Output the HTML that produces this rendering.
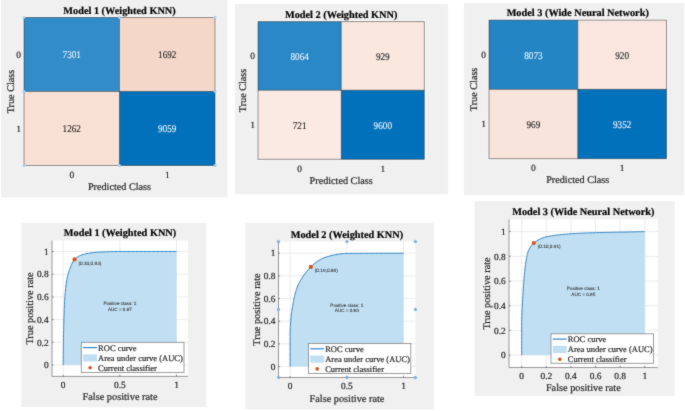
<!DOCTYPE html>
<html><head><meta charset="utf-8"><style>
html,body{margin:0;padding:0;background:#fff;}
body{width:685px;height:411px;overflow:hidden;font-family:"Liberation Serif",serif;}
svg{display:block;text-rendering:geometricPrecision;will-change:transform;}
#wrap{width:685px;height:411px;filter:none;}
</style></head><body>
<div id="wrap"><svg width="685" height="411" viewBox="0 0 685 411">
<defs><filter id="bl" x="0" y="0" width="685" height="411" filterUnits="userSpaceOnUse" color-interpolation-filters="sRGB"><feConvolveMatrix order="3" kernelMatrix="0.02 0.08 0.02 0.08 0.6 0.08 0.02 0.08 0.02" edgeMode="duplicate"/></filter></defs>
<g filter="url(#bl)">
<rect width="685" height="411" fill="#fff"/>
<rect x="1" y="0" width="226.5" height="197.3" fill="#f0f0f0" />
<rect x="24" y="17.5" width="95.5" height="74" fill="#318cc9" />
<rect x="119.5" y="17.5" width="95.5" height="74" fill="#f5d7c9" />
<rect x="24" y="91.5" width="95.5" height="74" fill="#f9e0d5" />
<rect x="119.5" y="91.5" width="95.5" height="74" fill="#0271bc" />
<rect x="23" y="16.5" width="193" height="150" fill="none" stroke="#fafafa" stroke-width="1"/>
<rect x="24" y="17.5" width="191" height="148" fill="none" stroke="rgba(30,30,30,0.5)" stroke-width="0.9"/>
<line x1="119.5" y1="17.5" x2="119.5" y2="165.5" stroke="rgba(30,30,30,0.6)" stroke-width="0.8"/>
<line x1="24" y1="91.5" x2="215" y2="91.5" stroke="rgba(30,30,30,0.6)" stroke-width="0.8"/>
<text x="71.75" y="58.3" font-size="9.6" text-anchor="middle" fill="#e8f1f9" stroke="#e8f1f9" stroke-width="0.12" font-family='"Liberation Serif", serif' transform="translate(71.75 58.3) scale(0.96 1.07) translate(-71.75 -58.3)" >7301</text>
<text x="167.25" y="58.3" font-size="9.6" text-anchor="middle" fill="#262626" stroke="#262626" stroke-width="0.12" font-family='"Liberation Serif", serif' transform="translate(167.25 58.3) scale(0.96 1.07) translate(-167.25 -58.3)" >1692</text>
<text x="71.75" y="132.3" font-size="9.6" text-anchor="middle" fill="#262626" stroke="#262626" stroke-width="0.12" font-family='"Liberation Serif", serif' transform="translate(71.75 132.3) scale(0.96 1.07) translate(-71.75 -132.3)" >1262</text>
<text x="167.25" y="132.3" font-size="9.6" text-anchor="middle" fill="#e8f1f9" stroke="#e8f1f9" stroke-width="0.12" font-family='"Liberation Serif", serif' transform="translate(167.25 132.3) scale(0.96 1.07) translate(-167.25 -132.3)" >9059</text>
<text x="119.5" y="13.6" font-size="10.3" text-anchor="middle" font-weight="bold" fill="#000" stroke="#000" stroke-width="0.2" font-family='"Liberation Serif", serif' >Model 1 (Weighted KNN)</text>
<text x="21" y="57.8" font-size="9.5" text-anchor="end" fill="#262626" stroke="#262626" stroke-width="0.2" font-family='"Liberation Serif", serif' >0</text>
<text x="21" y="131.8" font-size="9.5" text-anchor="end" fill="#262626" stroke="#262626" stroke-width="0.2" font-family='"Liberation Serif", serif' >1</text>
<text x="71.75" y="177.6" font-size="9.5" text-anchor="middle" fill="#262626" stroke="#262626" stroke-width="0.2" font-family='"Liberation Serif", serif' >0</text>
<text x="167.25" y="177.6" font-size="9.5" text-anchor="middle" fill="#262626" stroke="#262626" stroke-width="0.2" font-family='"Liberation Serif", serif' >1</text>
<text x="119.5" y="189.8" font-size="10.2" text-anchor="middle" fill="#262626" stroke="#262626" stroke-width="0.2" font-family='"Liberation Serif", serif' >Predicted Class</text>
<text x="14.2" y="91.5" font-size="10.2" text-anchor="middle" fill="#262626" stroke="#262626" stroke-width="0.2" font-family='"Liberation Serif", serif' transform="rotate(-90 14.2 91.5)" >True Class</text>
<circle cx="24" cy="17.5" r="1.2" fill="#c9e2f6" stroke="#7ab6e6" stroke-width="0.6"/>
<circle cx="24" cy="91.5" r="1.2" fill="#c9e2f6" stroke="#7ab6e6" stroke-width="0.6"/>
<circle cx="24" cy="165.5" r="1.2" fill="#c9e2f6" stroke="#7ab6e6" stroke-width="0.6"/>
<circle cx="119.5" cy="17.5" r="1.2" fill="#c9e2f6" stroke="#7ab6e6" stroke-width="0.6"/>
<circle cx="119.5" cy="165.5" r="1.2" fill="#c9e2f6" stroke="#7ab6e6" stroke-width="0.6"/>
<circle cx="215" cy="17.5" r="1.2" fill="#c9e2f6" stroke="#7ab6e6" stroke-width="0.6"/>
<circle cx="215" cy="91.5" r="1.2" fill="#c9e2f6" stroke="#7ab6e6" stroke-width="0.6"/>
<circle cx="215" cy="165.5" r="1.2" fill="#c9e2f6" stroke="#7ab6e6" stroke-width="0.6"/>
<rect x="235" y="4" width="213" height="190" fill="#f0f0f0" />
<rect x="258" y="21.6" width="83.3" height="68.7" fill="#2a88c7" />
<rect x="341.3" y="21.6" width="83" height="68.7" fill="#fae7de" />
<rect x="258" y="90.3" width="83.3" height="69" fill="#fbeae3" />
<rect x="341.3" y="90.3" width="83" height="69" fill="#0271bc" />
<rect x="257" y="20.6" width="168.3" height="139.7" fill="none" stroke="#fafafa" stroke-width="1"/>
<rect x="258" y="21.6" width="166.3" height="137.7" fill="none" stroke="rgba(30,30,30,0.5)" stroke-width="0.9"/>
<line x1="341.3" y1="21.6" x2="341.3" y2="159.3" stroke="rgba(30,30,30,0.6)" stroke-width="0.8"/>
<line x1="258" y1="90.3" x2="424.3" y2="90.3" stroke="rgba(30,30,30,0.6)" stroke-width="0.8"/>
<text x="299.65" y="59.75" font-size="9.6" text-anchor="middle" fill="#e8f1f9" stroke="#e8f1f9" stroke-width="0.12" font-family='"Liberation Serif", serif' transform="translate(299.65 59.75) scale(0.96 1.07) translate(-299.65 -59.75)" >8064</text>
<text x="382.8" y="59.75" font-size="9.6" text-anchor="middle" fill="#262626" stroke="#262626" stroke-width="0.12" font-family='"Liberation Serif", serif' transform="translate(382.8 59.75) scale(0.96 1.07) translate(-382.8 -59.75)" >929</text>
<text x="299.65" y="128.6" font-size="9.6" text-anchor="middle" fill="#262626" stroke="#262626" stroke-width="0.12" font-family='"Liberation Serif", serif' transform="translate(299.65 128.6) scale(0.96 1.07) translate(-299.65 -128.6)" >721</text>
<text x="382.8" y="128.6" font-size="9.6" text-anchor="middle" fill="#e8f1f9" stroke="#e8f1f9" stroke-width="0.12" font-family='"Liberation Serif", serif' transform="translate(382.8 128.6) scale(0.96 1.07) translate(-382.8 -128.6)" >9600</text>
<text x="341.15" y="17.5" font-size="10.3" text-anchor="middle" font-weight="bold" fill="#000" stroke="#000" stroke-width="0.2" font-family='"Liberation Serif", serif' >Model 2 (Weighted KNN)</text>
<text x="255" y="59.25" font-size="9.5" text-anchor="end" fill="#262626" stroke="#262626" stroke-width="0.2" font-family='"Liberation Serif", serif' >0</text>
<text x="255" y="128.1" font-size="9.5" text-anchor="end" fill="#262626" stroke="#262626" stroke-width="0.2" font-family='"Liberation Serif", serif' >1</text>
<text x="299.65" y="171.9" font-size="9.5" text-anchor="middle" fill="#262626" stroke="#262626" stroke-width="0.2" font-family='"Liberation Serif", serif' >0</text>
<text x="382.8" y="171.9" font-size="9.5" text-anchor="middle" fill="#262626" stroke="#262626" stroke-width="0.2" font-family='"Liberation Serif", serif' >1</text>
<text x="341.15" y="184" font-size="10.2" text-anchor="middle" fill="#262626" stroke="#262626" stroke-width="0.2" font-family='"Liberation Serif", serif' >Predicted Class</text>
<text x="246.3" y="90.45" font-size="10.2" text-anchor="middle" fill="#262626" stroke="#262626" stroke-width="0.2" font-family='"Liberation Serif", serif' transform="rotate(-90 246.3 90.45)" >True Class</text>
<rect x="464" y="3" width="220" height="192" fill="#f0f0f0" />
<rect x="489" y="20.1" width="88.8" height="69.3" fill="#2485c5" />
<rect x="577.8" y="20.1" width="88.7" height="69.3" fill="#fae6df" />
<rect x="489" y="89.4" width="88.8" height="69.3" fill="#f9e4dc" />
<rect x="577.8" y="89.4" width="88.7" height="69.3" fill="#0271bc" />
<rect x="488" y="19.1" width="179.5" height="140.6" fill="none" stroke="#fafafa" stroke-width="1"/>
<rect x="489" y="20.1" width="177.5" height="138.6" fill="none" stroke="rgba(30,30,30,0.5)" stroke-width="0.9"/>
<line x1="577.8" y1="20.1" x2="577.8" y2="158.7" stroke="rgba(30,30,30,0.6)" stroke-width="0.8"/>
<line x1="489" y1="89.4" x2="666.5" y2="89.4" stroke="rgba(30,30,30,0.6)" stroke-width="0.8"/>
<text x="533.4" y="58.55" font-size="9.6" text-anchor="middle" fill="#e8f1f9" stroke="#e8f1f9" stroke-width="0.12" font-family='"Liberation Serif", serif' transform="translate(533.4 58.55) scale(0.96 1.07) translate(-533.4 -58.55)" >8073</text>
<text x="622.15" y="58.55" font-size="9.6" text-anchor="middle" fill="#262626" stroke="#262626" stroke-width="0.12" font-family='"Liberation Serif", serif' transform="translate(622.15 58.55) scale(0.96 1.07) translate(-622.15 -58.55)" >920</text>
<text x="533.4" y="127.85" font-size="9.6" text-anchor="middle" fill="#262626" stroke="#262626" stroke-width="0.12" font-family='"Liberation Serif", serif' transform="translate(533.4 127.85) scale(0.96 1.07) translate(-533.4 -127.85)" >969</text>
<text x="622.15" y="127.85" font-size="9.6" text-anchor="middle" fill="#e8f1f9" stroke="#e8f1f9" stroke-width="0.12" font-family='"Liberation Serif", serif' transform="translate(622.15 127.85) scale(0.96 1.07) translate(-622.15 -127.85)" >9352</text>
<text x="577.75" y="15.6" font-size="10.3" text-anchor="middle" font-weight="bold" fill="#000" stroke="#000" stroke-width="0.2" font-family='"Liberation Serif", serif' >Model 3 (Wide Neural Network)</text>
<text x="486" y="58.05" font-size="9.5" text-anchor="end" fill="#262626" stroke="#262626" stroke-width="0.2" font-family='"Liberation Serif", serif' >0</text>
<text x="486" y="127.35" font-size="9.5" text-anchor="end" fill="#262626" stroke="#262626" stroke-width="0.2" font-family='"Liberation Serif", serif' >1</text>
<text x="533.4" y="171" font-size="9.5" text-anchor="middle" fill="#262626" stroke="#262626" stroke-width="0.2" font-family='"Liberation Serif", serif' >0</text>
<text x="622.15" y="171" font-size="9.5" text-anchor="middle" fill="#262626" stroke="#262626" stroke-width="0.2" font-family='"Liberation Serif", serif' >1</text>
<text x="577.75" y="183.1" font-size="10.2" text-anchor="middle" fill="#262626" stroke="#262626" stroke-width="0.2" font-family='"Liberation Serif", serif' >Predicted Class</text>
<text x="477.2" y="89.4" font-size="10.2" text-anchor="middle" fill="#262626" stroke="#262626" stroke-width="0.2" font-family='"Liberation Serif", serif' transform="rotate(-90 477.2 89.4)" >True Class</text>
<rect x="21.3" y="223" width="185.1" height="184.1" fill="#f0f0f0" />
<rect x="52" y="240.5" width="136" height="135.9" fill="#ffffff" />
<line x1="63.2" y1="240.5" x2="63.2" y2="376.4" stroke="#e3e3e3" stroke-width="0.7"/>
<line x1="119.85" y1="240.5" x2="119.85" y2="376.4" stroke="#e3e3e3" stroke-width="0.7"/>
<line x1="176.5" y1="240.5" x2="176.5" y2="376.4" stroke="#e3e3e3" stroke-width="0.7"/>
<line x1="52" y1="365" x2="188" y2="365" stroke="#e3e3e3" stroke-width="0.7"/>
<line x1="52" y1="342.3" x2="188" y2="342.3" stroke="#e3e3e3" stroke-width="0.7"/>
<line x1="52" y1="319.6" x2="188" y2="319.6" stroke="#e3e3e3" stroke-width="0.7"/>
<line x1="52" y1="296.9" x2="188" y2="296.9" stroke="#e3e3e3" stroke-width="0.7"/>
<line x1="52" y1="274.2" x2="188" y2="274.2" stroke="#e3e3e3" stroke-width="0.7"/>
<line x1="52" y1="251.5" x2="188" y2="251.5" stroke="#e3e3e3" stroke-width="0.7"/>
<polygon points="63.2,365 63.21,363.68 63.23,362.36 63.24,361.05 63.25,359.73 63.27,358.41 63.28,357.09 63.29,355.78 63.3,354.46 63.32,353.14 63.33,351.82 63.34,350.5 63.35,349.19 63.37,347.87 63.38,346.55 63.4,345.23 63.41,343.91 63.42,342.6 63.44,341.28 63.46,339.96 63.48,338.64 63.49,337.33 63.51,336.01 63.53,334.69 63.56,333.37 63.58,332.06 63.61,330.74 63.63,329.42 63.66,328.1 63.69,326.78 63.72,325.47 63.76,324.15 63.79,322.83 63.83,321.51 63.87,320.19 63.91,318.88 63.95,317.56 63.99,316.24 64.04,314.92 64.08,313.61 64.13,312.29 64.19,310.97 64.24,309.66 64.29,308.34 64.35,307.02 64.41,305.71 64.47,304.39 64.53,303.08 64.6,301.76 64.67,300.45 64.75,299.13 64.84,297.81 64.93,296.49 65.03,295.17 65.14,293.85 65.25,292.53 65.37,291.22 65.5,289.9 65.64,288.59 65.78,287.28 65.94,285.97 66.1,284.67 66.27,283.37 66.45,282.07 66.63,280.78 66.85,279.49 67.11,278.2 67.41,276.91 67.73,275.62 68.09,274.34 68.47,273.07 68.87,271.8 69.29,270.55 69.72,269.31 70.16,268.08 70.62,266.81 71.12,265.52 71.66,264.24 72.24,262.98 72.86,261.8 73.54,260.71 74.27,259.74 75.08,258.9 76.03,258.08 77.1,257.3 78.27,256.57 79.5,255.9 80.77,255.31 82.04,254.81 83.29,254.42 84.51,254.12 85.76,253.84 87.03,253.58 88.32,253.33 89.62,253.11 90.93,252.9 92.26,252.72 93.59,252.55 94.92,252.41 96.25,252.28 97.58,252.18 98.89,252.1 100.2,252.03 101.51,251.97 102.83,251.91 104.14,251.86 105.45,251.81 106.77,251.76 108.08,251.71 109.4,251.67 110.72,251.63 112.03,251.6 113.35,251.57 114.67,251.54 115.98,251.53 117.3,251.51 118.62,251.5 119.93,251.5 121.25,251.5 122.56,251.5 123.88,251.5 125.19,251.5 126.51,251.5 127.82,251.5 129.14,251.5 130.46,251.5 131.77,251.5 133.09,251.5 134.4,251.5 135.72,251.5 137.03,251.5 138.35,251.5 139.66,251.5 140.98,251.5 142.29,251.5 143.61,251.5 144.93,251.5 146.24,251.5 147.56,251.5 148.87,251.5 150.19,251.5 151.5,251.5 152.82,251.5 154.13,251.5 155.45,251.5 156.77,251.5 158.08,251.5 159.4,251.5 160.71,251.5 162.03,251.5 163.34,251.5 164.66,251.5 165.98,251.5 167.29,251.5 168.61,251.5 169.92,251.5 171.24,251.5 172.55,251.5 173.87,251.5 175.18,251.5 176.5,251.5 176.5,365 63.2,365" fill="#c0dff3" stroke="none"/>
<polyline points="63.2,365 63.21,363.68 63.23,362.36 63.24,361.05 63.25,359.73 63.27,358.41 63.28,357.09 63.29,355.78 63.3,354.46 63.32,353.14 63.33,351.82 63.34,350.5 63.35,349.19 63.37,347.87 63.38,346.55 63.4,345.23 63.41,343.91 63.42,342.6 63.44,341.28 63.46,339.96 63.48,338.64 63.49,337.33 63.51,336.01 63.53,334.69 63.56,333.37 63.58,332.06 63.61,330.74 63.63,329.42 63.66,328.1 63.69,326.78 63.72,325.47 63.76,324.15 63.79,322.83 63.83,321.51 63.87,320.19 63.91,318.88 63.95,317.56 63.99,316.24 64.04,314.92 64.08,313.61 64.13,312.29 64.19,310.97 64.24,309.66 64.29,308.34 64.35,307.02 64.41,305.71 64.47,304.39 64.53,303.08 64.6,301.76 64.67,300.45 64.75,299.13 64.84,297.81 64.93,296.49 65.03,295.17 65.14,293.85 65.25,292.53 65.37,291.22 65.5,289.9 65.64,288.59 65.78,287.28 65.94,285.97 66.1,284.67 66.27,283.37 66.45,282.07 66.63,280.78 66.85,279.49 67.11,278.2 67.41,276.91 67.73,275.62 68.09,274.34 68.47,273.07 68.87,271.8 69.29,270.55 69.72,269.31 70.16,268.08 70.62,266.81 71.12,265.52 71.66,264.24 72.24,262.98 72.86,261.8 73.54,260.71 74.27,259.74 75.08,258.9 76.03,258.08 77.1,257.3 78.27,256.57 79.5,255.9 80.77,255.31 82.04,254.81 83.29,254.42 84.51,254.12 85.76,253.84 87.03,253.58 88.32,253.33 89.62,253.11 90.93,252.9 92.26,252.72 93.59,252.55 94.92,252.41 96.25,252.28 97.58,252.18 98.89,252.1 100.2,252.03 101.51,251.97 102.83,251.91 104.14,251.86 105.45,251.81 106.77,251.76 108.08,251.71 109.4,251.67 110.72,251.63 112.03,251.6 113.35,251.57 114.67,251.54 115.98,251.53 117.3,251.51 118.62,251.5 119.93,251.5 121.25,251.5 122.56,251.5 123.88,251.5 125.19,251.5 126.51,251.5 127.82,251.5 129.14,251.5 130.46,251.5 131.77,251.5 133.09,251.5 134.4,251.5 135.72,251.5 137.03,251.5 138.35,251.5 139.66,251.5 140.98,251.5 142.29,251.5 143.61,251.5 144.93,251.5 146.24,251.5 147.56,251.5 148.87,251.5 150.19,251.5 151.5,251.5 152.82,251.5 154.13,251.5 155.45,251.5 156.77,251.5 158.08,251.5 159.4,251.5 160.71,251.5 162.03,251.5 163.34,251.5 164.66,251.5 165.98,251.5 167.29,251.5 168.61,251.5 169.92,251.5 171.24,251.5 172.55,251.5 173.87,251.5 175.18,251.5 176.5,251.5" fill="none" stroke="#2f84c6" stroke-width="1.0"/>
<line x1="52" y1="240.5" x2="52" y2="376.4" stroke="#8c8c8c" stroke-width="0.9"/>
<line x1="52" y1="376.4" x2="188" y2="376.4" stroke="#8c8c8c" stroke-width="0.9"/>
<line x1="52" y1="365" x2="53.5" y2="365" stroke="#555" stroke-width="0.7"/>
<line x1="52" y1="342.3" x2="53.5" y2="342.3" stroke="#555" stroke-width="0.7"/>
<line x1="52" y1="319.6" x2="53.5" y2="319.6" stroke="#555" stroke-width="0.7"/>
<line x1="52" y1="296.9" x2="53.5" y2="296.9" stroke="#555" stroke-width="0.7"/>
<line x1="52" y1="274.2" x2="53.5" y2="274.2" stroke="#555" stroke-width="0.7"/>
<line x1="52" y1="251.5" x2="53.5" y2="251.5" stroke="#555" stroke-width="0.7"/>
<line x1="63.2" y1="376.4" x2="63.2" y2="374.9" stroke="#555" stroke-width="0.7"/>
<line x1="119.85" y1="376.4" x2="119.85" y2="374.9" stroke="#555" stroke-width="0.7"/>
<line x1="176.5" y1="376.4" x2="176.5" y2="374.9" stroke="#555" stroke-width="0.7"/>
<circle cx="74.53" cy="259.44" r="2.1" fill="#d95319"/>
<text x="78.43" y="264.84" font-size="4.75" text-anchor="start" fill="#333" stroke="#333" stroke-width="0.08" font-family='"Liberation Sans", sans-serif' >(0.10,0.93)</text>
<text x="119.85" y="304.98" font-size="4.6" text-anchor="middle" fill="#333" stroke="#333" stroke-width="0.08" font-family='"Liberation Sans", sans-serif' >Positive class: 1</text>
<text x="119.85" y="310.78" font-size="4.6" text-anchor="middle" fill="#333" stroke="#333" stroke-width="0.08" font-family='"Liberation Sans", sans-serif' >AUC = 0.97</text>
<rect x="81.3" y="342.3" width="102.7" height="30.2" fill="#ffffff" stroke="#858585" stroke-width="0.8"/>
<line x1="83.1" y1="347.6" x2="97" y2="347.6" stroke="#1f78bf" stroke-width="1.1"/>
<rect x="83.1" y="354.3" width="13.9" height="7.2" fill="#c0dff3" />
<circle cx="90.1" cy="367.7" r="1.8" fill="#d95319"/>
<text x="98.1" y="350.6" font-size="8.5" text-anchor="start" fill="#262626" stroke="#262626" stroke-width="0.2" font-family='"Liberation Serif", serif' >ROC curve</text>
<text x="98.1" y="360.9" font-size="8.5" text-anchor="start" fill="#262626" stroke="#262626" stroke-width="0.2" font-family='"Liberation Serif", serif' >Area under curve (AUC)</text>
<text x="98.1" y="370.7" font-size="8.5" text-anchor="start" fill="#262626" stroke="#262626" stroke-width="0.2" font-family='"Liberation Serif", serif' >Current classifier</text>
<text x="63.2" y="388.2" font-size="9.4" text-anchor="middle" fill="#262626" stroke="#262626" stroke-width="0.2" font-family='"Liberation Serif", serif' >0</text>
<text x="119.85" y="388.2" font-size="9.4" text-anchor="middle" fill="#262626" stroke="#262626" stroke-width="0.2" font-family='"Liberation Serif", serif' >0.5</text>
<text x="176.5" y="388.2" font-size="9.4" text-anchor="middle" fill="#262626" stroke="#262626" stroke-width="0.2" font-family='"Liberation Serif", serif' >1</text>
<text x="48.6" y="368.2" font-size="9.4" text-anchor="end" fill="#262626" stroke="#262626" stroke-width="0.2" font-family='"Liberation Serif", serif' >0</text>
<text x="48.6" y="345.5" font-size="9.4" text-anchor="end" fill="#262626" stroke="#262626" stroke-width="0.2" font-family='"Liberation Serif", serif' >0.2</text>
<text x="48.6" y="322.8" font-size="9.4" text-anchor="end" fill="#262626" stroke="#262626" stroke-width="0.2" font-family='"Liberation Serif", serif' >0.4</text>
<text x="48.6" y="300.1" font-size="9.4" text-anchor="end" fill="#262626" stroke="#262626" stroke-width="0.2" font-family='"Liberation Serif", serif' >0.6</text>
<text x="48.6" y="277.4" font-size="9.4" text-anchor="end" fill="#262626" stroke="#262626" stroke-width="0.2" font-family='"Liberation Serif", serif' >0.8</text>
<text x="48.6" y="254.7" font-size="9.4" text-anchor="end" fill="#262626" stroke="#262626" stroke-width="0.2" font-family='"Liberation Serif", serif' >1</text>
<text x="120" y="400.4" font-size="10.3" text-anchor="middle" fill="#262626" stroke="#262626" stroke-width="0.2" font-family='"Liberation Serif", serif' >False positive rate</text>
<text x="32.6" y="308.45" font-size="10.3" text-anchor="middle" fill="#262626" stroke="#262626" stroke-width="0.2" font-family='"Liberation Serif", serif' transform="rotate(-90 32.6 308.45)" >True positive rate</text>
<text x="120" y="236.4" font-size="10.3" text-anchor="middle" font-weight="bold" fill="#000" stroke="#000" stroke-width="0.2" font-family='"Liberation Serif", serif' >Model 1 (Weighted KNN)</text>
<rect x="245.4" y="223" width="188.4" height="186.5" fill="#f0f0f0" />
<rect x="278.5" y="241.6" width="136.9" height="135.9" fill="#ffffff" />
<line x1="290.1" y1="241.6" x2="290.1" y2="377.5" stroke="#e3e3e3" stroke-width="0.7"/>
<line x1="346.8" y1="241.6" x2="346.8" y2="377.5" stroke="#e3e3e3" stroke-width="0.7"/>
<line x1="403.5" y1="241.6" x2="403.5" y2="377.5" stroke="#e3e3e3" stroke-width="0.7"/>
<line x1="278.5" y1="366.5" x2="415.4" y2="366.5" stroke="#e3e3e3" stroke-width="0.7"/>
<line x1="278.5" y1="343.84" x2="415.4" y2="343.84" stroke="#e3e3e3" stroke-width="0.7"/>
<line x1="278.5" y1="321.18" x2="415.4" y2="321.18" stroke="#e3e3e3" stroke-width="0.7"/>
<line x1="278.5" y1="298.52" x2="415.4" y2="298.52" stroke="#e3e3e3" stroke-width="0.7"/>
<line x1="278.5" y1="275.86" x2="415.4" y2="275.86" stroke="#e3e3e3" stroke-width="0.7"/>
<line x1="278.5" y1="253.2" x2="415.4" y2="253.2" stroke="#e3e3e3" stroke-width="0.7"/>
<polygon points="290.1,366.5 290.1,365.25 290.1,364 290.1,362.74 290.1,361.49 290.1,360.24 290.1,358.99 290.1,357.74 290.1,356.49 290.1,355.23 290.1,353.98 290.1,352.73 290.1,351.48 290.1,350.23 290.1,348.97 290.1,347.72 290.1,346.47 290.1,345.22 290.1,343.97 290.1,342.72 290.1,341.46 290.1,340.21 290.1,338.96 290.1,337.71 290.1,336.46 290.1,335.21 290.1,333.96 290.12,332.71 290.15,331.45 290.19,330.2 290.24,328.95 290.3,327.7 290.37,326.45 290.45,325.2 290.53,323.95 290.62,322.7 290.71,321.45 290.8,320.2 290.89,318.96 290.99,317.71 291.11,316.47 291.25,315.22 291.39,313.98 291.56,312.74 291.73,311.49 291.92,310.25 292.12,309.01 292.32,307.78 292.53,306.54 292.75,305.31 292.97,304.08 293.2,302.85 293.43,301.62 293.67,300.38 293.93,299.14 294.2,297.9 294.48,296.66 294.77,295.42 295.08,294.19 295.4,292.97 295.74,291.77 296.1,290.57 296.47,289.39 296.86,288.24 297.28,287.1 297.72,285.98 298.21,284.85 298.73,283.72 299.28,282.59 299.88,281.47 300.5,280.36 301.15,279.25 301.83,278.15 302.53,277.07 303.26,276 304,274.94 304.77,273.9 305.55,272.88 306.35,271.88 307.16,270.91 307.98,269.96 308.81,269.03 309.65,268.14 310.49,267.27 311.34,266.43 312.23,265.58 313.16,264.73 314.12,263.89 315.11,263.05 316.14,262.24 317.18,261.46 318.25,260.72 319.34,260.02 320.44,259.37 321.54,258.79 322.66,258.28 323.77,257.85 324.89,257.48 326.04,257.13 327.2,256.78 328.38,256.43 329.58,256.1 330.8,255.78 332.03,255.47 333.27,255.18 334.51,254.91 335.77,254.65 337.03,254.41 338.3,254.2 339.57,254 340.84,253.84 342.11,253.69 343.37,253.58 344.63,253.5 345.88,253.44 347.12,253.42 348.36,253.41 349.61,253.4 350.85,253.39 352.09,253.38 353.34,253.37 354.58,253.37 355.83,253.36 357.08,253.35 358.33,253.34 359.58,253.34 360.83,253.33 362.08,253.32 363.33,253.32 364.58,253.31 365.83,253.31 367.09,253.3 368.34,253.3 369.59,253.29 370.85,253.29 372.1,253.29 373.36,253.28 374.61,253.28 375.87,253.28 377.13,253.27 378.38,253.27 379.64,253.27 380.9,253.26 382.15,253.26 383.41,253.26 384.67,253.25 385.92,253.25 387.18,253.25 388.44,253.25 389.69,253.24 390.95,253.24 392.21,253.24 393.46,253.23 394.72,253.23 395.97,253.23 397.23,253.22 398.48,253.22 399.74,253.21 400.99,253.21 402.25,253.2 403.5,253.2 403.5,366.5 290.1,366.5" fill="#c0dff3" stroke="none"/>
<polyline points="290.1,366.5 290.1,365.25 290.1,364 290.1,362.74 290.1,361.49 290.1,360.24 290.1,358.99 290.1,357.74 290.1,356.49 290.1,355.23 290.1,353.98 290.1,352.73 290.1,351.48 290.1,350.23 290.1,348.97 290.1,347.72 290.1,346.47 290.1,345.22 290.1,343.97 290.1,342.72 290.1,341.46 290.1,340.21 290.1,338.96 290.1,337.71 290.1,336.46 290.1,335.21 290.1,333.96 290.12,332.71 290.15,331.45 290.19,330.2 290.24,328.95 290.3,327.7 290.37,326.45 290.45,325.2 290.53,323.95 290.62,322.7 290.71,321.45 290.8,320.2 290.89,318.96 290.99,317.71 291.11,316.47 291.25,315.22 291.39,313.98 291.56,312.74 291.73,311.49 291.92,310.25 292.12,309.01 292.32,307.78 292.53,306.54 292.75,305.31 292.97,304.08 293.2,302.85 293.43,301.62 293.67,300.38 293.93,299.14 294.2,297.9 294.48,296.66 294.77,295.42 295.08,294.19 295.4,292.97 295.74,291.77 296.1,290.57 296.47,289.39 296.86,288.24 297.28,287.1 297.72,285.98 298.21,284.85 298.73,283.72 299.28,282.59 299.88,281.47 300.5,280.36 301.15,279.25 301.83,278.15 302.53,277.07 303.26,276 304,274.94 304.77,273.9 305.55,272.88 306.35,271.88 307.16,270.91 307.98,269.96 308.81,269.03 309.65,268.14 310.49,267.27 311.34,266.43 312.23,265.58 313.16,264.73 314.12,263.89 315.11,263.05 316.14,262.24 317.18,261.46 318.25,260.72 319.34,260.02 320.44,259.37 321.54,258.79 322.66,258.28 323.77,257.85 324.89,257.48 326.04,257.13 327.2,256.78 328.38,256.43 329.58,256.1 330.8,255.78 332.03,255.47 333.27,255.18 334.51,254.91 335.77,254.65 337.03,254.41 338.3,254.2 339.57,254 340.84,253.84 342.11,253.69 343.37,253.58 344.63,253.5 345.88,253.44 347.12,253.42 348.36,253.41 349.61,253.4 350.85,253.39 352.09,253.38 353.34,253.37 354.58,253.37 355.83,253.36 357.08,253.35 358.33,253.34 359.58,253.34 360.83,253.33 362.08,253.32 363.33,253.32 364.58,253.31 365.83,253.31 367.09,253.3 368.34,253.3 369.59,253.29 370.85,253.29 372.1,253.29 373.36,253.28 374.61,253.28 375.87,253.28 377.13,253.27 378.38,253.27 379.64,253.27 380.9,253.26 382.15,253.26 383.41,253.26 384.67,253.25 385.92,253.25 387.18,253.25 388.44,253.25 389.69,253.24 390.95,253.24 392.21,253.24 393.46,253.23 394.72,253.23 395.97,253.23 397.23,253.22 398.48,253.22 399.74,253.21 400.99,253.21 402.25,253.2 403.5,253.2" fill="none" stroke="#2f84c6" stroke-width="1.0"/>
<line x1="278.5" y1="241.6" x2="278.5" y2="377.5" stroke="#8c8c8c" stroke-width="0.9"/>
<line x1="278.5" y1="377.5" x2="415.4" y2="377.5" stroke="#8c8c8c" stroke-width="0.9"/>
<line x1="278.5" y1="366.5" x2="280" y2="366.5" stroke="#555" stroke-width="0.7"/>
<line x1="278.5" y1="343.84" x2="280" y2="343.84" stroke="#555" stroke-width="0.7"/>
<line x1="278.5" y1="321.18" x2="280" y2="321.18" stroke="#555" stroke-width="0.7"/>
<line x1="278.5" y1="298.52" x2="280" y2="298.52" stroke="#555" stroke-width="0.7"/>
<line x1="278.5" y1="275.86" x2="280" y2="275.86" stroke="#555" stroke-width="0.7"/>
<line x1="278.5" y1="253.2" x2="280" y2="253.2" stroke="#555" stroke-width="0.7"/>
<line x1="290.1" y1="377.5" x2="290.1" y2="376" stroke="#555" stroke-width="0.7"/>
<line x1="346.8" y1="377.5" x2="346.8" y2="376" stroke="#555" stroke-width="0.7"/>
<line x1="403.5" y1="377.5" x2="403.5" y2="376" stroke="#555" stroke-width="0.7"/>
<circle cx="310.85" cy="266.91" r="2.1" fill="#d95319"/>
<text x="314.75" y="272.31" font-size="4.75" text-anchor="start" fill="#333" stroke="#333" stroke-width="0.08" font-family='"Liberation Sans", sans-serif' >(0.19,0.88)</text>
<text x="346.8" y="306.58" font-size="4.6" text-anchor="middle" fill="#333" stroke="#333" stroke-width="0.08" font-family='"Liberation Sans", sans-serif' >Positive class: 1</text>
<text x="346.8" y="312.38" font-size="4.6" text-anchor="middle" fill="#333" stroke="#333" stroke-width="0.08" font-family='"Liberation Sans", sans-serif' >AUC = 0.93</text>
<rect x="308.4" y="343.5" width="102.4" height="30.1" fill="#ffffff" stroke="#858585" stroke-width="0.8"/>
<line x1="310.2" y1="348.8" x2="324.1" y2="348.8" stroke="#1f78bf" stroke-width="1.1"/>
<rect x="310.2" y="355.5" width="13.9" height="7.2" fill="#c0dff3" />
<circle cx="317.2" cy="368.9" r="1.8" fill="#d95319"/>
<text x="325.2" y="351.8" font-size="8.5" text-anchor="start" fill="#262626" stroke="#262626" stroke-width="0.2" font-family='"Liberation Serif", serif' >ROC curve</text>
<text x="325.2" y="362.1" font-size="8.5" text-anchor="start" fill="#262626" stroke="#262626" stroke-width="0.2" font-family='"Liberation Serif", serif' >Area under curve (AUC)</text>
<text x="325.2" y="371.9" font-size="8.5" text-anchor="start" fill="#262626" stroke="#262626" stroke-width="0.2" font-family='"Liberation Serif", serif' >Current classifier</text>
<text x="290.1" y="389.1" font-size="9.4" text-anchor="middle" fill="#262626" stroke="#262626" stroke-width="0.2" font-family='"Liberation Serif", serif' >0</text>
<text x="346.8" y="389.1" font-size="9.4" text-anchor="middle" fill="#262626" stroke="#262626" stroke-width="0.2" font-family='"Liberation Serif", serif' >0.5</text>
<text x="403.5" y="389.1" font-size="9.4" text-anchor="middle" fill="#262626" stroke="#262626" stroke-width="0.2" font-family='"Liberation Serif", serif' >1</text>
<text x="275.5" y="369.7" font-size="9.4" text-anchor="end" fill="#262626" stroke="#262626" stroke-width="0.2" font-family='"Liberation Serif", serif' >0</text>
<text x="275.5" y="347.04" font-size="9.4" text-anchor="end" fill="#262626" stroke="#262626" stroke-width="0.2" font-family='"Liberation Serif", serif' >0.2</text>
<text x="275.5" y="324.38" font-size="9.4" text-anchor="end" fill="#262626" stroke="#262626" stroke-width="0.2" font-family='"Liberation Serif", serif' >0.4</text>
<text x="275.5" y="301.72" font-size="9.4" text-anchor="end" fill="#262626" stroke="#262626" stroke-width="0.2" font-family='"Liberation Serif", serif' >0.6</text>
<text x="275.5" y="279.06" font-size="9.4" text-anchor="end" fill="#262626" stroke="#262626" stroke-width="0.2" font-family='"Liberation Serif", serif' >0.8</text>
<text x="275.5" y="256.4" font-size="9.4" text-anchor="end" fill="#262626" stroke="#262626" stroke-width="0.2" font-family='"Liberation Serif", serif' >1</text>
<text x="346.95" y="401.8" font-size="10.3" text-anchor="middle" fill="#262626" stroke="#262626" stroke-width="0.2" font-family='"Liberation Serif", serif' >False positive rate</text>
<text x="259.9" y="309.55" font-size="10.3" text-anchor="middle" fill="#262626" stroke="#262626" stroke-width="0.2" font-family='"Liberation Serif", serif' transform="rotate(-90 259.9 309.55)" >True positive rate</text>
<text x="346.95" y="237.6" font-size="10.3" text-anchor="middle" font-weight="bold" fill="#000" stroke="#000" stroke-width="0.2" font-family='"Liberation Serif", serif' >Model 2 (Weighted KNN)</text>
<circle cx="278.5" cy="241.6" r="1.2" fill="#8fc0e8" stroke="#4b93d3" stroke-width="0.6"/>
<circle cx="278.5" cy="309.55" r="1.2" fill="#8fc0e8" stroke="#4b93d3" stroke-width="0.6"/>
<circle cx="278.5" cy="377.5" r="1.2" fill="#8fc0e8" stroke="#4b93d3" stroke-width="0.6"/>
<circle cx="346.95" cy="241.6" r="1.2" fill="#8fc0e8" stroke="#4b93d3" stroke-width="0.6"/>
<circle cx="346.95" cy="377.5" r="1.2" fill="#8fc0e8" stroke="#4b93d3" stroke-width="0.6"/>
<circle cx="415.4" cy="241.6" r="1.2" fill="#8fc0e8" stroke="#4b93d3" stroke-width="0.6"/>
<circle cx="415.4" cy="309.55" r="1.2" fill="#8fc0e8" stroke="#4b93d3" stroke-width="0.6"/>
<circle cx="415.4" cy="377.5" r="1.2" fill="#8fc0e8" stroke="#4b93d3" stroke-width="0.6"/>
<rect x="474.5" y="201.1" width="200.1" height="194.8" fill="#f0f0f0" />
<rect x="509" y="219.4" width="148.7" height="148.1" fill="#ffffff" />
<line x1="521.7" y1="219.4" x2="521.7" y2="367.5" stroke="#e3e3e3" stroke-width="0.7"/>
<line x1="546.32" y1="219.4" x2="546.32" y2="367.5" stroke="#e3e3e3" stroke-width="0.7"/>
<line x1="570.94" y1="219.4" x2="570.94" y2="367.5" stroke="#e3e3e3" stroke-width="0.7"/>
<line x1="595.56" y1="219.4" x2="595.56" y2="367.5" stroke="#e3e3e3" stroke-width="0.7"/>
<line x1="620.18" y1="219.4" x2="620.18" y2="367.5" stroke="#e3e3e3" stroke-width="0.7"/>
<line x1="644.8" y1="219.4" x2="644.8" y2="367.5" stroke="#e3e3e3" stroke-width="0.7"/>
<line x1="509" y1="355.1" x2="657.7" y2="355.1" stroke="#e3e3e3" stroke-width="0.7"/>
<line x1="509" y1="330.4" x2="657.7" y2="330.4" stroke="#e3e3e3" stroke-width="0.7"/>
<line x1="509" y1="305.7" x2="657.7" y2="305.7" stroke="#e3e3e3" stroke-width="0.7"/>
<line x1="509" y1="281" x2="657.7" y2="281" stroke="#e3e3e3" stroke-width="0.7"/>
<line x1="509" y1="256.3" x2="657.7" y2="256.3" stroke="#e3e3e3" stroke-width="0.7"/>
<line x1="509" y1="231.6" x2="657.7" y2="231.6" stroke="#e3e3e3" stroke-width="0.7"/>
<polygon points="521.7,355.1 521.7,353.68 521.7,352.26 521.7,350.84 521.7,349.42 521.7,348 521.7,346.58 521.7,345.16 521.7,343.74 521.7,342.32 521.7,340.9 521.7,339.48 521.7,338.06 521.7,336.64 521.7,335.22 521.7,333.8 521.7,332.38 521.7,330.96 521.7,329.54 521.7,328.12 521.7,326.7 521.7,325.28 521.7,323.86 521.7,322.44 521.72,321.02 521.74,319.61 521.76,318.19 521.8,316.77 521.84,315.35 521.89,313.93 521.95,312.51 522.01,311.09 522.07,309.67 522.14,308.25 522.22,306.83 522.29,305.42 522.37,304 522.46,302.58 522.54,301.16 522.63,299.74 522.71,298.32 522.8,296.91 522.89,295.49 522.98,294.07 523.07,292.66 523.16,291.24 523.24,289.82 523.33,288.41 523.42,286.99 523.52,285.57 523.62,284.15 523.72,282.73 523.83,281.31 523.94,279.89 524.06,278.48 524.18,277.06 524.3,275.64 524.44,274.23 524.57,272.82 524.72,271.4 524.87,269.99 525.03,268.58 525.19,267.18 525.36,265.77 525.54,264.37 525.73,262.96 525.94,261.53 526.17,260.1 526.42,258.67 526.69,257.25 526.99,255.85 527.32,254.47 527.68,253.12 528.07,251.82 528.53,250.53 529.12,249.23 529.83,247.93 530.64,246.66 531.52,245.46 532.45,244.37 533.4,243.41 534.38,242.58 535.46,241.78 536.62,241 537.85,240.25 539.14,239.55 540.47,238.89 541.84,238.29 543.22,237.75 544.61,237.28 545.99,236.89 547.35,236.58 548.68,236.33 550.03,236.1 551.39,235.88 552.76,235.67 554.14,235.46 555.53,235.27 556.93,235.09 558.33,234.92 559.74,234.75 561.16,234.6 562.58,234.45 564,234.31 565.43,234.18 566.86,234.06 568.29,233.94 569.73,233.84 571.16,233.73 572.59,233.64 574.02,233.55 575.45,233.47 576.88,233.39 578.3,233.32 579.72,233.25 581.13,233.19 582.54,233.13 583.96,233.08 585.37,233.02 586.78,232.97 588.19,232.92 589.61,232.87 591.02,232.82 592.43,232.77 593.85,232.73 595.26,232.69 596.67,232.65 598.09,232.61 599.5,232.57 600.92,232.53 602.33,232.5 603.75,232.46 605.16,232.43 606.58,232.4 607.99,232.36 609.41,232.33 610.82,232.3 612.24,232.27 613.65,232.24 615.07,232.21 616.49,232.19 617.9,232.16 619.32,232.13 620.73,232.1 622.15,232.08 623.57,232.05 624.98,232.02 626.4,231.99 627.81,231.97 629.23,231.94 630.65,231.91 632.06,231.88 633.48,231.85 634.89,231.83 636.31,231.8 637.72,231.77 639.14,231.73 640.55,231.7 641.97,231.67 643.39,231.63 644.8,231.6 644.8,355.1 521.7,355.1" fill="#c0dff3" stroke="none"/>
<polyline points="521.7,355.1 521.7,353.68 521.7,352.26 521.7,350.84 521.7,349.42 521.7,348 521.7,346.58 521.7,345.16 521.7,343.74 521.7,342.32 521.7,340.9 521.7,339.48 521.7,338.06 521.7,336.64 521.7,335.22 521.7,333.8 521.7,332.38 521.7,330.96 521.7,329.54 521.7,328.12 521.7,326.7 521.7,325.28 521.7,323.86 521.7,322.44 521.72,321.02 521.74,319.61 521.76,318.19 521.8,316.77 521.84,315.35 521.89,313.93 521.95,312.51 522.01,311.09 522.07,309.67 522.14,308.25 522.22,306.83 522.29,305.42 522.37,304 522.46,302.58 522.54,301.16 522.63,299.74 522.71,298.32 522.8,296.91 522.89,295.49 522.98,294.07 523.07,292.66 523.16,291.24 523.24,289.82 523.33,288.41 523.42,286.99 523.52,285.57 523.62,284.15 523.72,282.73 523.83,281.31 523.94,279.89 524.06,278.48 524.18,277.06 524.3,275.64 524.44,274.23 524.57,272.82 524.72,271.4 524.87,269.99 525.03,268.58 525.19,267.18 525.36,265.77 525.54,264.37 525.73,262.96 525.94,261.53 526.17,260.1 526.42,258.67 526.69,257.25 526.99,255.85 527.32,254.47 527.68,253.12 528.07,251.82 528.53,250.53 529.12,249.23 529.83,247.93 530.64,246.66 531.52,245.46 532.45,244.37 533.4,243.41 534.38,242.58 535.46,241.78 536.62,241 537.85,240.25 539.14,239.55 540.47,238.89 541.84,238.29 543.22,237.75 544.61,237.28 545.99,236.89 547.35,236.58 548.68,236.33 550.03,236.1 551.39,235.88 552.76,235.67 554.14,235.46 555.53,235.27 556.93,235.09 558.33,234.92 559.74,234.75 561.16,234.6 562.58,234.45 564,234.31 565.43,234.18 566.86,234.06 568.29,233.94 569.73,233.84 571.16,233.73 572.59,233.64 574.02,233.55 575.45,233.47 576.88,233.39 578.3,233.32 579.72,233.25 581.13,233.19 582.54,233.13 583.96,233.08 585.37,233.02 586.78,232.97 588.19,232.92 589.61,232.87 591.02,232.82 592.43,232.77 593.85,232.73 595.26,232.69 596.67,232.65 598.09,232.61 599.5,232.57 600.92,232.53 602.33,232.5 603.75,232.46 605.16,232.43 606.58,232.4 607.99,232.36 609.41,232.33 610.82,232.3 612.24,232.27 613.65,232.24 615.07,232.21 616.49,232.19 617.9,232.16 619.32,232.13 620.73,232.1 622.15,232.08 623.57,232.05 624.98,232.02 626.4,231.99 627.81,231.97 629.23,231.94 630.65,231.91 632.06,231.88 633.48,231.85 634.89,231.83 636.31,231.8 637.72,231.77 639.14,231.73 640.55,231.7 641.97,231.67 643.39,231.63 644.8,231.6" fill="none" stroke="#2f84c6" stroke-width="1.0"/>
<line x1="509" y1="219.4" x2="509" y2="367.5" stroke="#8c8c8c" stroke-width="0.9"/>
<line x1="509" y1="367.5" x2="657.7" y2="367.5" stroke="#8c8c8c" stroke-width="0.9"/>
<line x1="509" y1="355.1" x2="510.5" y2="355.1" stroke="#555" stroke-width="0.7"/>
<line x1="509" y1="330.4" x2="510.5" y2="330.4" stroke="#555" stroke-width="0.7"/>
<line x1="509" y1="305.7" x2="510.5" y2="305.7" stroke="#555" stroke-width="0.7"/>
<line x1="509" y1="281" x2="510.5" y2="281" stroke="#555" stroke-width="0.7"/>
<line x1="509" y1="256.3" x2="510.5" y2="256.3" stroke="#555" stroke-width="0.7"/>
<line x1="509" y1="231.6" x2="510.5" y2="231.6" stroke="#555" stroke-width="0.7"/>
<line x1="521.7" y1="367.5" x2="521.7" y2="366" stroke="#555" stroke-width="0.7"/>
<line x1="546.32" y1="367.5" x2="546.32" y2="366" stroke="#555" stroke-width="0.7"/>
<line x1="570.94" y1="367.5" x2="570.94" y2="366" stroke="#555" stroke-width="0.7"/>
<line x1="595.56" y1="367.5" x2="595.56" y2="366" stroke="#555" stroke-width="0.7"/>
<line x1="620.18" y1="367.5" x2="620.18" y2="366" stroke="#555" stroke-width="0.7"/>
<line x1="644.8" y1="367.5" x2="644.8" y2="366" stroke="#555" stroke-width="0.7"/>
<circle cx="533.76" cy="243.09" r="2.1" fill="#d95319"/>
<text x="537.66" y="248.49" font-size="4.75" text-anchor="start" fill="#333" stroke="#333" stroke-width="0.08" font-family='"Liberation Sans", sans-serif' >(0.10,0.91)</text>
<text x="583.25" y="289.88" font-size="4.6" text-anchor="middle" fill="#333" stroke="#333" stroke-width="0.08" font-family='"Liberation Sans", sans-serif' >Positive class: 1</text>
<text x="583.25" y="295.68" font-size="4.6" text-anchor="middle" fill="#333" stroke="#333" stroke-width="0.08" font-family='"Liberation Sans", sans-serif' >AUC = 0.95</text>
<rect x="551" y="333.8" width="102.4" height="29.5" fill="#ffffff" stroke="#858585" stroke-width="0.8"/>
<line x1="552.8" y1="339.1" x2="566.7" y2="339.1" stroke="#1f78bf" stroke-width="1.1"/>
<rect x="552.8" y="345.8" width="13.9" height="7.2" fill="#c0dff3" />
<circle cx="559.8" cy="359.2" r="1.8" fill="#d95319"/>
<text x="567.8" y="342.1" font-size="8.5" text-anchor="start" fill="#262626" stroke="#262626" stroke-width="0.2" font-family='"Liberation Serif", serif' >ROC curve</text>
<text x="567.8" y="352.4" font-size="8.5" text-anchor="start" fill="#262626" stroke="#262626" stroke-width="0.2" font-family='"Liberation Serif", serif' >Area under curve (AUC)</text>
<text x="567.8" y="362.2" font-size="8.5" text-anchor="start" fill="#262626" stroke="#262626" stroke-width="0.2" font-family='"Liberation Serif", serif' >Current classifier</text>
<text x="521.7" y="379.4" font-size="9.4" text-anchor="middle" fill="#262626" stroke="#262626" stroke-width="0.2" font-family='"Liberation Serif", serif' >0</text>
<text x="546.32" y="379.4" font-size="9.4" text-anchor="middle" fill="#262626" stroke="#262626" stroke-width="0.2" font-family='"Liberation Serif", serif' >0.2</text>
<text x="570.94" y="379.4" font-size="9.4" text-anchor="middle" fill="#262626" stroke="#262626" stroke-width="0.2" font-family='"Liberation Serif", serif' >0.4</text>
<text x="595.56" y="379.4" font-size="9.4" text-anchor="middle" fill="#262626" stroke="#262626" stroke-width="0.2" font-family='"Liberation Serif", serif' >0.6</text>
<text x="620.18" y="379.4" font-size="9.4" text-anchor="middle" fill="#262626" stroke="#262626" stroke-width="0.2" font-family='"Liberation Serif", serif' >0.8</text>
<text x="644.8" y="379.4" font-size="9.4" text-anchor="middle" fill="#262626" stroke="#262626" stroke-width="0.2" font-family='"Liberation Serif", serif' >1</text>
<text x="505.8" y="358.3" font-size="9.4" text-anchor="end" fill="#262626" stroke="#262626" stroke-width="0.2" font-family='"Liberation Serif", serif' >0</text>
<text x="505.8" y="333.6" font-size="9.4" text-anchor="end" fill="#262626" stroke="#262626" stroke-width="0.2" font-family='"Liberation Serif", serif' >0.2</text>
<text x="505.8" y="308.9" font-size="9.4" text-anchor="end" fill="#262626" stroke="#262626" stroke-width="0.2" font-family='"Liberation Serif", serif' >0.4</text>
<text x="505.8" y="284.2" font-size="9.4" text-anchor="end" fill="#262626" stroke="#262626" stroke-width="0.2" font-family='"Liberation Serif", serif' >0.6</text>
<text x="505.8" y="259.5" font-size="9.4" text-anchor="end" fill="#262626" stroke="#262626" stroke-width="0.2" font-family='"Liberation Serif", serif' >0.8</text>
<text x="505.8" y="234.8" font-size="9.4" text-anchor="end" fill="#262626" stroke="#262626" stroke-width="0.2" font-family='"Liberation Serif", serif' >1</text>
<text x="583.35" y="391.4" font-size="10.3" text-anchor="middle" fill="#262626" stroke="#262626" stroke-width="0.2" font-family='"Liberation Serif", serif' >False positive rate</text>
<text x="490" y="293.45" font-size="10.3" text-anchor="middle" fill="#262626" stroke="#262626" stroke-width="0.2" font-family='"Liberation Serif", serif' transform="rotate(-90 490 293.45)" >True positive rate</text>
<text x="583.35" y="214.8" font-size="10.3" text-anchor="middle" font-weight="bold" fill="#000" stroke="#000" stroke-width="0.2" font-family='"Liberation Serif", serif' >Model 3 (Wide Neural Network)</text>
</g>
</svg></div>
</body></html>
